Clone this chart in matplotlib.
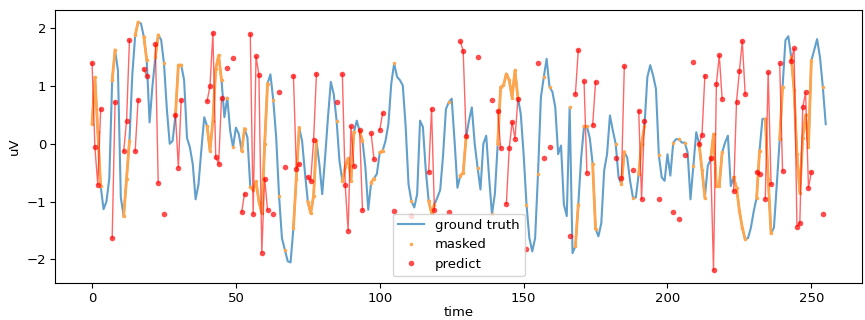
import numpy as np
import matplotlib
matplotlib.use("Agg")
import matplotlib.pyplot as plt

# ground truth signal, one value per time step (uV)
groundTruth = [
  0.35, 1.15, 0.20, -0.73, -1.13, -1.00, -0.60, 1.10, 1.62, 1.27,
  -0.93, -1.25, -0.60, 0.05, 1.20, 1.88, 2.10, 2.08, 1.85, 1.45,
  0.37, 1.00, 1.50, 1.88, 1.80, 1.39, 0.60, 0.00, 0.05, 0.50,
  1.36, 1.36, 1.10, 0.10, -0.06, -0.35, -0.96, -0.70, -0.10, 0.46,
  0.30, -0.12, 0.40, 1.30, 1.53, 1.10, 0.46, 0.80, 0.23, -0.06,
  0.28, 0.17, -0.12, 0.26, 0.11, -0.75, -0.80, -0.65, -1.00, -1.20,
  0.00, 1.04, 1.20, 0.75, 0.11, -0.90, -1.63, -1.83, -2.03, -2.05,
  -1.45, -0.60, 0.28, 0.05, -0.50, -1.00, -1.20, -0.90, 0.05, -0.35,
  -0.87, -0.24, 0.46, 1.07, 0.86, 0.40, -0.30, -0.64, -0.40, -0.25,
  -0.64, 0.20, 0.40, 0.22, 0.05, -0.40, -1.14, -0.67, -0.60, -0.52,
  -0.15, -0.12, 0.05, 0.34, 1.04, 1.39, 1.16, 1.10, 1.01, 0.30,
  -0.70, -0.99, -1.10, -0.87, 0.40, 0.29, -0.46, -0.99, -1.20, -1.05,
  -0.93, -0.80, -0.20, 0.60, 0.72, 0.78, 0.05, -0.76, -0.55, -0.50,
  0.11, 0.40, 0.63, 0.00, -0.41, -0.79, 0.00, 0.14, -0.58, -1.22,
  -0.87, 0.00, 0.98, 1.01, 1.21, 1.10, 0.80, 1.27, 0.80, 0.52,
  -0.18, -1.05, -1.63, -1.86, -1.63, -0.52, 0.80, 1.15, 1.47, 0.98,
  0.90, 0.63, -0.18, -0.03, -1.05, -1.25, 0.63, -1.89, -1.77, -1.05,
  -0.24, 0.30, 0.30, 0.10, -0.35, -1.47, -1.60, -1.37, -0.46, -0.18,
  0.49, 0.23, 0.00, -0.58, -0.70, -0.14, -0.24, -0.64, -0.93, -0.93,
  -0.52, 0.00, 0.30, 1.15, 1.36, 1.18, 0.95, -0.20, -0.58, -0.64,
  -0.18, -0.55, 0.02, 0.08, 0.08, 0.02, 0.02, -0.15, -0.96, -0.38,
  0.20, 0.00, -0.45, -0.93, -0.38, -0.27, 0.17, -0.73, -0.73, -0.15,
  0.02, 0.14, -0.73, -0.58, -0.76, -1.16, -1.45, -1.65, -1.63, -1.45,
  -1.16, -0.93, -0.12, 0.43, 0.43, -0.60, -1.55, -1.45, -0.70, 0.08,
  0.98, 1.79, 1.86, 1.50, 0.93, -0.18, -0.85, 0.10, 0.50, -0.06,
  1.44, 1.62, 1.81, 1.50, 0.98, 0.34,
]

# time steps that were masked out
maskIdx = [
  0, 1, 2, 3, 7, 8, 11, 12, 13, 15, 16, 18, 19, 22, 23, 25, 29, 30, 31,
  40, 41, 42, 43, 44, 45, 47, 49, 52, 53, 55, 56, 57, 58, 59, 60, 61, 63, 65, 67,
  70, 71, 72, 75, 76, 77, 78, 85, 87, 88, 89, 90, 91, 93, 94, 97, 98, 100, 101,
  105, 111, 117, 118, 119, 124, 128, 129, 130, 134, 139,
  141, 142, 143, 144, 145, 146, 147, 148, 151, 155, 157, 159, 166, 168, 169,
  171, 172, 174, 175, 182, 184, 185, 188, 190, 191, 192, 197, 202, 204, 206, 209,
  211, 212, 213, 215, 216, 217, 218, 219, 223, 224, 225, 226, 227, 231, 232,
  234, 235, 236, 239, 240, 243, 244, 245, 246, 247, 248, 249, 250, 254,
]

# model prediction at each masked step (nan = no visible point)
predictVals = [
  1.40, -0.06, -0.71, 0.60, -1.63, 0.72, -0.13, 0.40, 1.79, -0.12, 0.76, 1.29, 1.18,
  1.72, -0.67, -1.22, 0.50, -0.41, 0.76,
  0.74, 1.00, 1.92, -0.23, -0.35, 0.79, 1.31, 1.48, -1.18, -0.86,
  1.90, -1.21, 1.51, 1.19, -1.88, -0.60, -1.14, -1.21, 0.89, -0.40,
  1.18, -0.43, -0.35, -0.57, -0.64, 0.06, 1.21, 0.72, 1.20, -0.72, -1.50, 0.30, -0.39,
  0.23, -1.15, 0.18, -0.27, 0.24, 0.53,
  -1.17, -1.24, -0.49, 0.60, -1.15, -1.18, 1.77, 1.60, 0.14, 1.50, 0.75,
  0.57, -0.07, np.nan, -1.04, -0.08, 0.38, 0.09, 0.77, -1.82, 1.40, -0.24, -0.05, -1.59, 0.86, 1.62,
  1.08, -0.50, 0.32, 1.07, -0.25, -0.59, 1.34, -0.46, 0.57, -0.96, 0.39, -0.95, -1.18, -1.30, -0.20, 1.41,
  0.00, 0.16, 1.18, -0.25, -2.19, 1.03, 1.53, 0.78, -0.82, 0.73, 1.25, 1.78, 0.86, -0.49, -0.53,
  -0.95, 1.24, -0.70, 1.39, -0.47, 1.44, 1.65, -1.43, -1.37, 0.63, 0.89, -0.76, -0.49, -1.22,
]


def buildSeries():
  gt = np.array(groundTruth)
  masked = np.full(len(gt), np.nan)
  masked[maskIdx] = gt[maskIdx]
  predict = np.full(len(gt), np.nan)
  predict[maskIdx] = predictVals
  return np.arange(len(gt)), gt, masked, predict


def drawChart() -> None:
  t, gt, masked, predict = buildSeries()
  fig, ax = plt.subplots(figsize=(8.65, 3.2), dpi=100)
  fig.subplots_adjust(left=0.064, right=0.997, top=0.969, bottom=0.116)

  ax.plot(t, gt, color="tab:blue", alpha=0.7, lw=1.5, label="ground truth")
  # masked part of the signal: thick segments plus tiny dots for lone steps
  ax.plot(t, masked, color="#ffa64d", lw=2)
  ax.plot(t, masked, ".", color="#ffa64d", ms=3, label="masked")
  ax.plot(t, predict, color="red", alpha=0.6, lw=1)
  ax.plot(t, predict, "o", color="red", alpha=0.7, ms=4, mec="none", label="predict")

  ax.tick_params(labelsize=9.5, pad=3)
  ax.set_xlabel("time", fontsize=9.5, labelpad=1)
  ax.set_ylabel("uV", fontsize=9.5)
  ax.legend(loc="lower center", fontsize=9.5)
  fig.savefig("out.png")


if __name__ == "__main__":
  drawChart()
